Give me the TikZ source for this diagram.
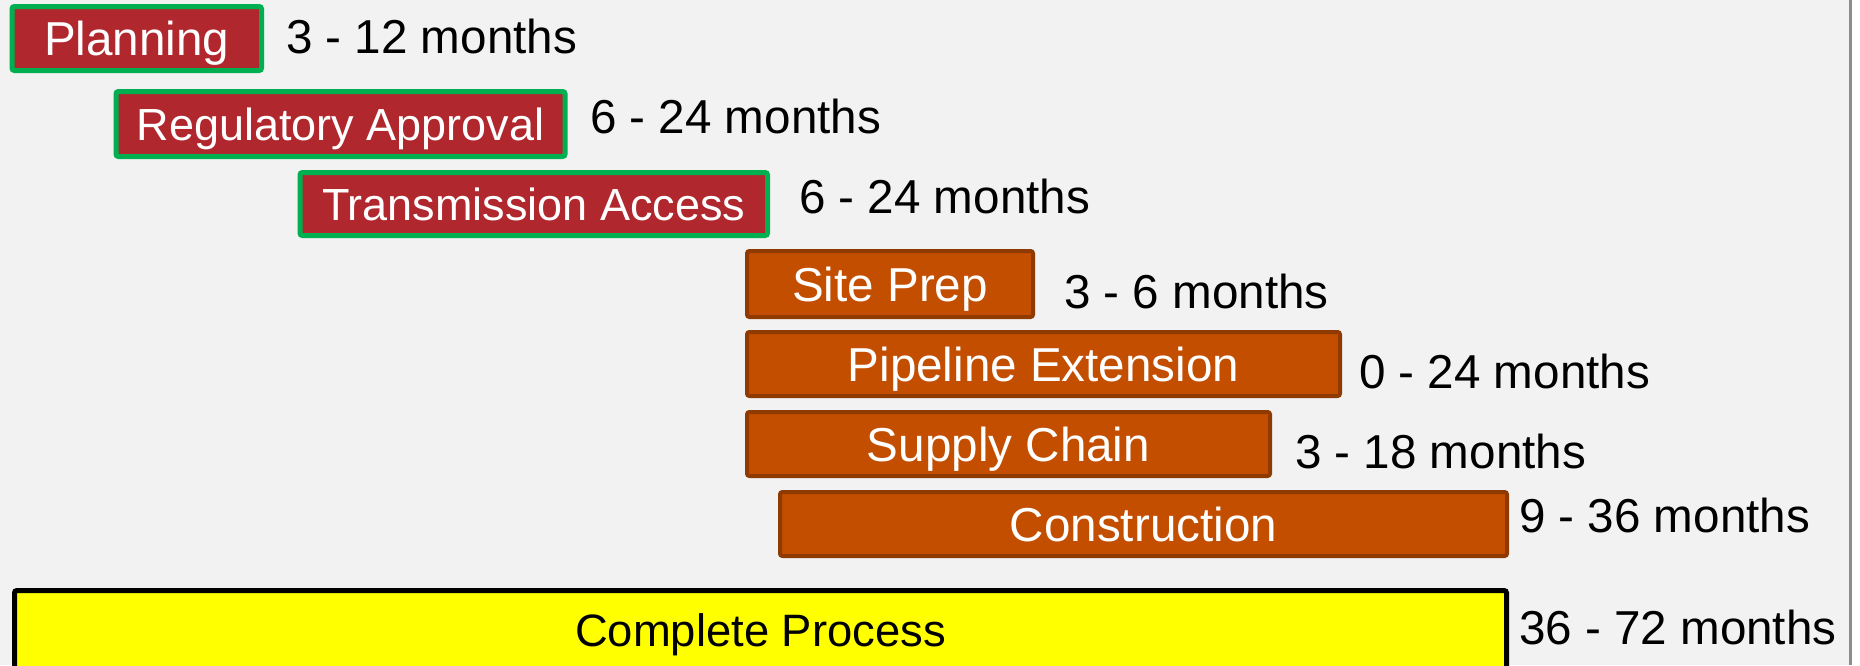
\documentclass[tikz,border=0pt]{standalone}
\usepackage{fontspec}
\setmainfont{Liberation Sans}
\definecolor{bgc}{HTML}{F2F2F2}
\definecolor{redfill}{HTML}{B0282E}
\definecolor{greenline}{HTML}{00B050}
\definecolor{orangefill}{HTML}{C34E00}
\definecolor{orangeline}{HTML}{8F3A00}
\definecolor{edgegray}{HTML}{8C8C8C}
\definecolor{totalfill}{HTML}{FFFF00}
\begin{document}
\begin{tikzpicture}[x=0.5pt,y=-0.5pt,
  every node/.style={inner sep=0pt, outer sep=0pt, font=\fontsize{23.8pt}{28pt}\selectfont},
  barbox/.style={rectangle, rounded corners=1.2pt, text height=17pt, text depth=0pt, align=center},
  redbox/.style={barbox, fill=redfill, draw=greenline, line width=2.5pt, text=white},
  smallertext/.style={font=\fontsize{22.5pt}{27pt}\selectfont, text height=16.1pt},
  orangebox/.style={barbox, fill=orangefill, draw=orangeline, line width=2pt, text=white},
  totalbox/.style={barbox, fill=totalfill, draw=black, line width=2.5pt, text=black,
    font=\fontsize{22.7pt}{27pt}\selectfont, text height=16.3pt},
  durlabel/.style={anchor=base west, text=black}]
\useasboundingbox (0,0) rectangle (1860,665);
\clip (0,0) rectangle (1860,665);
\fill[white] (0,0) rectangle (1860,665);
\fill[bgc] (0,0) rectangle (1849,665);
\fill[edgegray] (1849,0) rectangle (1852,665);
% phase bars
\node[redbox, minimum width=124.75pt, minimum height=32pt] (plan) at (136.75,38.5) {Planning};
\node[redbox, smallertext, minimum width=224.5pt, minimum height=32.5pt] (reg) at (340.5,124) {Regulatory Approval};
\node[redbox, smallertext, minimum width=233.75pt, minimum height=31.5pt] (trans) at (533.75,204) {Transmission Access};
\node[orangebox, minimum width=143pt, minimum height=33pt] (site) at (890,284) {Site Prep};
\node[orangebox, minimum width=296.5pt, minimum height=32pt] (pipe) at (1043.5,364) {Pipeline Extension};
\node[orangebox, minimum width=261.5pt, minimum height=32pt] (supply) at (1008.5,444) {Supply Chain};
\node[orangebox, minimum width=363.5pt, minimum height=32pt] (constr) at (1143.5,524) {Construction};
\node[totalbox, minimum width=746pt, minimum height=39.5pt] (total) at (760.5,630) {Complete Process};
% durations
\node[durlabel] (lplan) at (286,53) {3 - 12 months};
\node[durlabel] (lreg) at (590,133) {6 - 24 months};
\node[durlabel] (ltrans) at (799,213) {6 - 24 months};
\node[durlabel] (lsite) at (1064,308) {3 - 6 months};
\node[durlabel] (lpipe) at (1359,388) {0 - 24 months};
\node[durlabel] (lsupply) at (1295,468) {3 - 18 months};
\node[durlabel] (lconstr) at (1519,532) {9 - 36 months};
\node[durlabel] (ltotal) at (1519,644) {36 - 72 months};
\end{tikzpicture}
\end{document}
